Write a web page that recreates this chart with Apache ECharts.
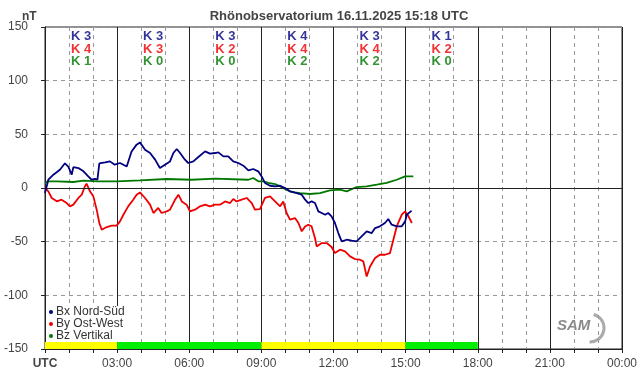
<!DOCTYPE html>
<html>
<head>
<meta charset="utf-8">
<script src="https://cdn.jsdelivr.net/npm/echarts@6/dist/echarts.min.js"></script>
<style>
  html, body { margin: 0; padding: 0; background: #fff; }
  #chart { width: 642px; height: 376px; }
</style>
</head>
<body>
<div id="chart"></div>
<script>
// Magnetometer data, [hour UTC, nT]
var bxData = [[0,-4.6],[0.14,7.7],[0.35,12.4],[0.62,17],[0.83,23],[0.97,20],[1.11,12.4],[1.18,19.5],[1.39,18.6],[1.6,15.5],[1.8,10.8],[1.94,7.7],[2.08,8.4],[2.18,7.7],[2.26,23],[2.5,23.9],[2.7,24.8],[2.9,21.7],[3.12,23.3],[3.4,20],[3.6,34],[3.81,40.4],[3.95,42.5],[4.16,35.7],[4.37,32.6],[4.58,26.4],[4.78,18.6],[4.99,21.7],[5.2,24.8],[5.34,32.6],[5.48,36.3],[5.62,32.6],[5.82,26.4],[5.96,23.3],[6.17,24.8],[6.38,28.9],[6.66,34.1],[6.86,32],[7.07,32.6],[7.21,33.2],[7.42,29.5],[7.62,29.5],[7.83,24.8],[8.04,23.3],[8.25,20.8],[8.46,16.4],[8.66,17.7],[8.87,15.5],[9.01,10.8],[9.15,4.7],[9.36,2.1],[9.57,1.5],[9.78,2.1],[9.98,0],[10.19,-3.1],[10.47,-4.7],[10.68,-6.2],[10.82,-10.9],[10.95,-14],[11.09,-12.5],[11.23,-14],[11.37,-21.8],[11.51,-23.3],[11.65,-24.9],[11.78,-23.3],[11.92,-26.4],[12.06,-32.6],[12.2,-42],[12.34,-49.7],[12.55,-48.2],[12.76,-49.1],[12.96,-49.7],[13.17,-45.1],[13.38,-40.4],[13.59,-42],[13.73,-37.3],[13.93,-35.7],[14.14,-32.6],[14.28,-28.9],[14.42,-34.2],[14.63,-35.7],[14.84,-35.7],[14.98,-31.1],[15.05,-24.9],[15.16,-22.7],[15.25,-21.2]];
var byData = [[0,0],[0.14,-3.1],[0.28,-9.3],[0.49,-12.4],[0.69,-10.9],[0.9,-14],[1.04,-17.1],[1.18,-15.5],[1.39,-9.3],[1.53,-6.2],[1.66,1.6],[1.73,4],[1.87,-3.1],[2.01,-7.8],[2.15,-20.2],[2.26,-32.6],[2.36,-38.9],[2.57,-36.4],[2.77,-35.1],[2.98,-35.1],[3.12,-31.1],[3.26,-24.9],[3.46,-17.1],[3.67,-10.9],[3.81,-6.2],[3.95,-4.1],[4.16,-9.3],[4.37,-15.5],[4.51,-23.3],[4.71,-18.6],[4.85,-23.3],[5.06,-21.8],[5.2,-20.2],[5.41,-10.9],[5.55,-6.2],[5.69,-12.5],[5.89,-15.5],[6.03,-21.8],[6.24,-20.2],[6.45,-17.1],[6.66,-15.5],[6.86,-17.1],[7.07,-15.5],[7.28,-15.5],[7.49,-12.5],[7.7,-14],[7.83,-10.3],[7.97,-12.5],[8.18,-10.9],[8.39,-9.3],[8.6,-14],[8.73,-20.2],[8.94,-19.6],[9.15,-9.3],[9.36,-7.8],[9.57,-12.5],[9.78,-17.1],[9.91,-12.5],[10.05,-23.3],[10.19,-29.5],[10.4,-28],[10.54,-32.6],[10.68,-40.4],[10.82,-35.8],[10.95,-34.2],[11.09,-35.8],[11.23,-46.6],[11.3,-54.4],[11.51,-51.3],[11.72,-51.3],[11.92,-55],[12.06,-60.6],[12.27,-57.5],[12.48,-59.1],[12.69,-63.7],[12.89,-66.2],[13.1,-66.8],[13.24,-68.4],[13.38,-82.4],[13.52,-73.1],[13.73,-65.3],[13.93,-62.2],[14.14,-62.2],[14.35,-60.6],[14.49,-48.2],[14.63,-35.8],[14.84,-24.9],[14.98,-21.8],[15.12,-26.4],[15.26,-32.6]];
var bzData = [[0,4],[0.1,6.2],[0.5,6.2],[1.18,5.6],[1.6,6.8],[2.2,6.2],[3,6.2],[3.95,7.1],[5.06,8.4],[6.1,7.7],[7.07,8.7],[8.46,7.7],[8.66,9.3],[8.87,6.2],[9.08,6.2],[9.29,4.7],[9.57,3.7],[9.78,1.5],[9.98,-0.9],[10.19,-3.1],[10.4,-4.1],[10.61,-4.7],[11.02,-5.6],[11.44,-4.7],[11.85,-2.2],[12.27,-1.6],[12.55,-3.1],[12.96,0.9],[13.38,1.5],[13.8,3.1],[14.21,4.7],[14.63,7.7],[14.98,10.8],[15.32,10.8]];

// K indices per 3-hour block
var kBlockMid = [1.5, 4.5, 7.5, 10.5, 13.5, 16.5];
var kBx = [3, 3, 3, 4, 3, 1];
var kBy = [4, 3, 2, 4, 4, 2];
var kBz = [1, 0, 0, 2, 2, 0];

// activity bar at the bottom: [from hour, to hour, colour]
var activityBands = [[0, 3, '#ffff00'], [3, 9, '#00ee00'], [9, 15, '#ffff00'], [15, 18, '#00ee00']];

var seriesNames = ['Bx Nord-Süd', 'By Ost-West', 'Bz Vertikal'];
var colors = ['#000080', '#ee0000', '#007800'];

var chart = echarts.init(document.getElementById('chart'), null, { renderer: 'canvas' });
var font = 'Liberation Sans, Arial, sans-serif';

function kSeries(vals, level, color) {
  return {
    type: 'scatter', silent: true, symbolSize: 0,
    data: kBlockMid.map(function(h, i) { return [h, level, vals[i]]; }),
    label: {
      show: true, position: 'inside', color: color, fontSize: 13, fontWeight: 'bold', fontFamily: font,
      formatter: function(p) { return 'K ' + p.value[2]; }
    }
  };
}

chart.setOption({
  animation: false,
  backgroundColor: '#fff',
  textStyle: { fontFamily: font },
  title: [
    { text: 'Rhönobservatorium 16.11.2025 15:18 UTC', left: 334, textAlign: 'center', top: 5,
      textStyle: { fontSize: 13, fontWeight: 'bold', color: '#444', fontFamily: font } },
    { text: 'nT', left: 17, top: 6, textStyle: { fontSize: 12, fontWeight: 'bold', color: '#444', fontFamily: font } }
  ],
  legend: {
    data: seriesNames, orient: 'vertical', left: 47, top: 306, itemGap: 0,
    padding: [0, 3, 0, 2], backgroundColor: '#fff',
    icon: 'circle', itemWidth: 4, itemHeight: 4,
    textStyle: { color: '#333', fontSize: 12, fontFamily: font, padding: [0, 0, 0, -2] }
  },
  grid: { left: 45, right: 20, top: 27, bottom: 27, show: true, borderColor: '#222', borderWidth: 1, backgroundColor: 'transparent' },
  xAxis: {
    type: 'value', min: 0, max: 24, interval: 3,
    axisLine: { onZero: false, lineStyle: { color: '#222' } },
    axisTick: { show: true, length: 4, lineStyle: { color: '#222' } },
    minorTick: { show: true, splitNumber: 3, length: 4, lineStyle: { color: '#222' } },
    splitLine: { show: true, lineStyle: { color: '#222', width: 1 } },
    minorSplitLine: { show: true, lineStyle: { color: '#999', type: [4, 4] } },
    axisLabel: {
      color: '#444', fontSize: 12, margin: 9,
      formatter: function(v) {
        if (v === 0) return '{b|UTC}';
        var h = v % 24;
        return (h < 10 ? '0' : '') + h + ':00';
      },
      rich: { b: { fontWeight: 'bold', fontSize: 12, color: '#444', fontFamily: font } }
    }
  },
  yAxis: {
    type: 'value', min: -150, max: 150, interval: 50,
    axisLine: { show: true, lineStyle: { color: '#222' } },
    axisTick: { show: true, length: 4, lineStyle: { color: '#222' } },
    splitLine: { lineStyle: { color: '#999', type: [4, 4] } },
    axisLabel: { color: '#444', fontSize: 12, margin: 17 }
  },
  series: [
    {
      name: seriesNames[0], type: 'line', data: bxData, showSymbol: false, z: 5,
      lineStyle: { color: colors[0], width: 1.8 }, itemStyle: { color: colors[0] },
      markLine: {
        silent: true, symbol: 'none', label: { show: false },
        lineStyle: { color: '#222', type: 'solid', width: 1 },
        data: [{ yAxis: 0 }]
      },
      markArea: {
        silent: true,
        data: activityBands.map(function(b) {
          return [{ xAxis: b[0], yAxis: -150, itemStyle: { color: b[2], opacity: 1 } }, { xAxis: b[1], yAxis: -143.5 }];
        })
      }
    },
    { name: seriesNames[1], type: 'line', data: byData, showSymbol: false, z: 4,
      lineStyle: { color: colors[1], width: 1.8 }, itemStyle: { color: colors[1] } },
    { name: seriesNames[2], type: 'line', data: bzData, showSymbol: false, z: 3,
      lineStyle: { color: colors[2], width: 1.8 }, itemStyle: { color: colors[2] } },
    kSeries(kBx, 141, colors[0]),
    kSeries(kBy, 129, colors[1]),
    kSeries(kBz, 117.5, colors[2])
  ],
  graphic: [
    { type: 'text', left: 557, top: 318, silent: true,
      style: { text: 'SAM', fill: '#8a8a8a', font: 'italic bold 15px ' + font } },
    { type: 'arc', silent: true, shape: { cx: 590, cy: 328, r: 14, startAngle: -1.3, endAngle: 1.6 },
      style: { stroke: '#aaa', lineWidth: 3, fill: 'none' } }
  ]
});
window.addEventListener('resize', function() { chart.resize(); });
</script>
</body>
</html>
